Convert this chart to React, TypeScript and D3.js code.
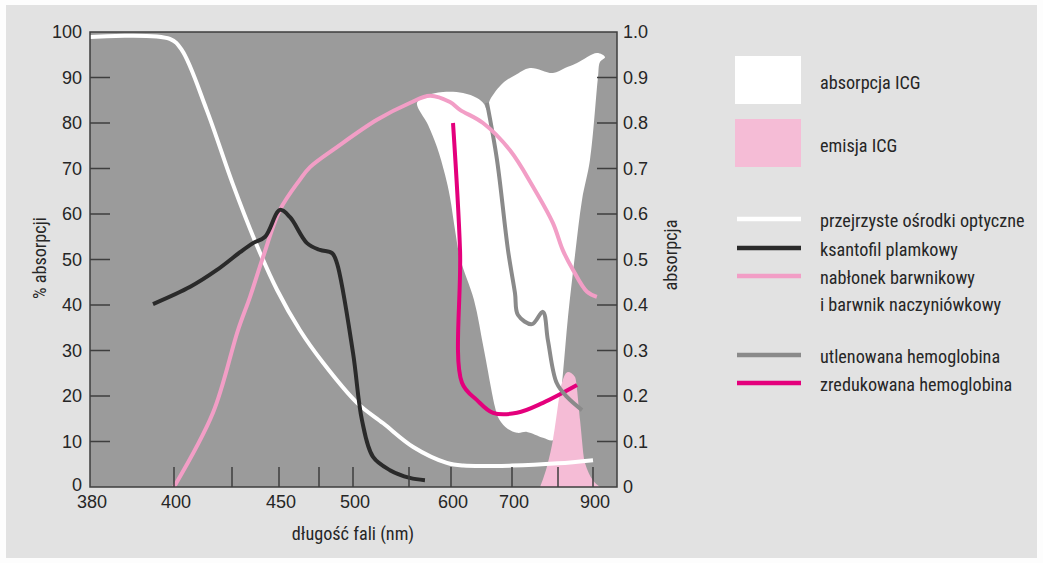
import React, { useEffect, useRef } from 'react'
import * as d3 from 'd3'

// wavelength axis is not linear in the original, so it is built from its tick stops
const wavelengths = [380, 400, 425, 450, 475, 500, 550, 600, 700, 800, 900]
const wavelengthLabels = [380, 400, 450, 500, 600, 700, 900]
const percentTicks = [0, 10, 20, 30, 40, 50, 60, 70, 80, 90, 100]
const absorbanceTicks = [0, 0.1, 0.2, 0.3, 0.4, 0.5, 0.6, 0.7, 0.8, 0.9, 1.0]

// [wavelength nm, % absorption]
const opticalMedia: [number, number][] = [
  [380, 98.9], [399, 98.5], [403.4, 96], [414, 83], [425.5, 66.5], [437, 54.3],
  [449, 43.3], [463, 34.5], [478, 27.3], [503.6, 18.5], [527, 14], [555, 8.8],
  [595, 5.3], [620, 4.7], [700, 4.7], [800, 5.2], [900, 5.9],
]
const xanthophyll: [number, number][] = [
  [395, 40.2], [407, 44], [418.5, 47.7], [429.3, 51.6], [436.2, 53.6], [442.6, 55],
  [450.6, 60.9], [456.9, 59.3], [467.5, 53.6], [475.7, 52.1], [484.6, 51.4], [488.2, 49.2],
  [500, 29.5], [508, 14.7], [517.9, 6.6], [533, 3.7], [551, 2], [569, 1.5],
]
const pigmentEpithelium: [number, number][] = [
  [400, 0], [416.8, 16.3], [428.2, 34.5], [434.6, 41.8], [441.5, 50.5], [450.6, 60.9],
  [463, 67.5], [469.4, 70.3], [488.2, 74.7], [521.4, 80.7], [551, 84.4], [575, 86],
  [598.8, 84.6], [614.8, 82.9], [652.5, 80], [696.7, 74], [745.7, 66], [789, 58],
  [814, 52], [843, 47.7], [883, 42.9], [911, 41.8],
]

// [wavelength nm, absorbance]
const oxyHemoglobin: [number, number][] = [
  [659, 0.844], [675.4, 0.719], [693.4, 0.521], [706.5, 0.426], [713, 0.378],
  [743.5, 0.358], [767, 0.385], [778, 0.323], [797, 0.229], [825.7, 0.198], [868.6, 0.169],
]
const deoxyHemoglobin: [number, number][] = [
  [603.3, 0.8], [614.8, 0.521], [618, 0.229], [642.6, 0.191], [668.9, 0.163],
  [710.9, 0.163], [767.4, 0.185], [854.3, 0.224],
]
const icgAbsorption: [number, number][] = [
  [559.5, 0.844], [569, 0.859], [590.5, 0.868], [619.7, 0.866], [642.6, 0.855], [654.1, 0.842],
  [659, 0.829], [664, 0.851], [685.2, 0.888], [706.5, 0.905], [739.1, 0.921], [789.1, 0.91],
  [820, 0.921], [854.3, 0.932], [911.4, 0.954], [934.3, 0.945], [920, 0.934], [914.3, 0.901],
  [891.4, 0.719], [868.6, 0.631], [848.6, 0.51], [828.6, 0.374], [814.3, 0.251], [800, 0.147],
  [789.1, 0.103], [767.4, 0.108], [732.6, 0.121], [710.9, 0.119], [689.1, 0.132], [677, 0.154],
  [672.1, 0.176], [654.1, 0.301], [637.7, 0.411], [614.8, 0.503], [606.6, 0.565], [598.8, 0.637],
  [592.9, 0.686], [583.3, 0.747], [572.6, 0.796],
]
const icgEmission: [number, number][] = [
  [761, 0], [778, 0.053], [789, 0.103], [811.4, 0.229], [828.6, 0.253], [848.6, 0.242],
  [862.9, 0.147], [877, 0.053], [920, 0],
]

const areaLegend = ['absorpcja ICG', 'emisja ICG']
const lineLegend = [
  ['przejrzyste ośrodki optyczne'],
  ['ksantofil plamkowy'],
  ['nabłonek barwnikowy', 'i barwnik naczyniówkowy'],
  ['utlenowana hemoglobina'],
  ['zredukowana hemoglobina'],
]

const W = 1043
const H = 563
const plot = { left: 90, right: 617, top: 32, bottom: 487 }
const axisStops = [90, 174, 232, 279, 319, 353, 409, 451, 512, 558, 593]

const labelFont = "'Roboto Condensed', 'Liberation Sans Narrow', 'Arial Narrow', sans-serif"
const tickFont = "'Liberation Sans', Arial, sans-serif"
const labelSize = 18.2

const colors = {
  page: '#e2e2e2',
  plot: '#9b9b9b',
  axis: '#3e3e3e',
  text: '#262626',
  white: '#ffffff',
  black: '#2a2a2a',
  pink: '#f29ec6',
  gray: '#8a8a8a',
  magenta: '#e4007c',
  emission: '#f5bcd6',
}

function drawChart(node: SVGSVGElement) {
  const svg = d3.select(node)
  svg.selectAll('*').remove()

  const x = d3.scaleLinear().domain(wavelengths).range(axisStops)
  const yPct = d3.scaleLinear().domain([0, 100]).range([plot.bottom, plot.top])
  const yAbs = d3.scaleLinear().domain([0, 1]).range([plot.bottom, plot.top])

  svg.append('rect').attr('width', W).attr('height', H).attr('fill', '#fdfdfd')
  svg.append('rect')
    .attr('x', 6).attr('y', 5).attr('width', W - 12).attr('height', H - 10)
    .attr('fill', colors.page)

  svg.append('clipPath').attr('id', 'plot-clip')
    .append('rect')
    .attr('x', plot.left).attr('y', plot.top)
    .attr('width', plot.right - plot.left).attr('height', plot.bottom - plot.top)

  svg.append('rect')
    .attr('x', plot.left).attr('y', plot.top)
    .attr('width', plot.right - plot.left).attr('height', plot.bottom - plot.top)
    .attr('fill', colors.plot)

  const g = svg.append('g').attr('clip-path', 'url(#plot-clip)')

  const absOutline = d3.line<[number, number]>()
    .x(d => x(d[0])).y(d => yAbs(d[1]))
    .curve(d3.curveCatmullRomClosed.alpha(0.5))
  const pctLine = d3.line<[number, number]>()
    .x(d => x(d[0])).y(d => yPct(d[1]))
    .curve(d3.curveCatmullRom.alpha(0.5))
  const absLine = d3.line<[number, number]>()
    .x(d => x(d[0])).y(d => yAbs(d[1]))
    .curve(d3.curveCatmullRom.alpha(0.5))

  // ICG absorption (white cloud)
  g.append('path').attr('d', absOutline(icgAbsorption)).attr('fill', colors.white)

  // ICG emission
  const emissionArea = d3.area<[number, number]>()
    .x(d => x(d[0])).y0(yAbs(0)).y1(d => yAbs(d[1]))
    .curve(d3.curveMonotoneX)
  g.append('path').attr('d', emissionArea(icgEmission)).attr('fill', colors.emission)

  const strokes: [[number, number][], string, boolean][] = [
    [deoxyHemoglobin, colors.magenta, true],
    [oxyHemoglobin, colors.gray, true],
    [opticalMedia, colors.white, false],
    [pigmentEpithelium, colors.pink, false],
    [xanthophyll, colors.black, false],
  ]
  strokes.forEach(([data, color, abs]) => {
    g.append('path')
      .attr('d', abs ? absLine(data) : pctLine(data))
      .attr('fill', 'none')
      .attr('stroke', color)
      .attr('stroke-width', 4)
      .attr('stroke-linejoin', 'round')
  })

  // frame
  svg.append('rect')
    .attr('x', plot.left).attr('y', plot.top)
    .attr('width', plot.right - plot.left).attr('height', plot.bottom - plot.top)
    .attr('fill', 'none').attr('stroke', colors.axis).attr('stroke-width', 1.5)

  const tickLen = 20

  // left axis
  const left = svg.append('g')
  left.selectAll('line')
    .data(percentTicks.filter(d => d > 0 && d < 100))
    .enter().append('line')
    .attr('x1', plot.left).attr('x2', plot.left + tickLen)
    .attr('y1', d => yPct(d)).attr('y2', d => yPct(d))
    .attr('stroke', colors.axis).attr('stroke-width', 1.5)
  left.selectAll('text')
    .data(percentTicks)
    .enter().append('text')
    .attr('x', plot.left - 8).attr('y', d => yPct(d) - (d === 0 ? 2 : 0))
    .attr('dy', '0.35em')
    .attr('text-anchor', 'end')
    .attr('font-family', tickFont).attr('font-size', 18).attr('fill', colors.text)
    .text(d => d)

  // right axis
  const right = svg.append('g')
  right.selectAll('line')
    .data(absorbanceTicks.filter(d => d > 0 && d < 1))
    .enter().append('line')
    .attr('x1', plot.right - tickLen).attr('x2', plot.right)
    .attr('y1', d => yAbs(d)).attr('y2', d => yAbs(d))
    .attr('stroke', colors.axis).attr('stroke-width', 1.5)
  right.selectAll('text')
    .data(absorbanceTicks)
    .enter().append('text')
    .attr('x', plot.right + 6).attr('y', d => yAbs(d))
    .attr('dy', '0.35em')
    .attr('font-family', tickFont).attr('font-size', 18).attr('fill', colors.text)
    .text(d => (d === 0 ? '0' : d.toFixed(1)))

  // bottom axis
  const bottom = svg.append('g')
  bottom.selectAll('line')
    .data(wavelengths.filter(d => d > 380))
    .enter().append('line')
    .attr('x1', d => x(d)).attr('x2', d => x(d))
    .attr('y1', plot.bottom).attr('y2', plot.bottom - tickLen)
    .attr('stroke', colors.axis).attr('stroke-width', 1.5)
  bottom.selectAll('text')
    .data(wavelengthLabels)
    .enter().append('text')
    .attr('x', d => x(d) + 2).attr('y', plot.bottom + 21)
    .attr('text-anchor', 'middle')
    .attr('font-family', tickFont).attr('font-size', 18).attr('fill', colors.text)
    .text(d => d)

  // axis titles
  svg.append('text')
    .attr('x', 353).attr('y', 540)
    .attr('text-anchor', 'middle')
    .attr('font-family', labelFont).attr('font-size', labelSize).attr('fill', colors.text)
    .text('długość fali (nm)')
  svg.append('text')
    .attr('transform', 'translate(46,258) rotate(-90)')
    .attr('text-anchor', 'middle')
    .attr('font-family', labelFont).attr('font-size', labelSize).attr('fill', colors.text)
    .text('% absorpcji')
  svg.append('text')
    .attr('transform', 'translate(677,255) rotate(-90)')
    .attr('text-anchor', 'middle')
    .attr('font-family', labelFont).attr('font-size', labelSize).attr('fill', colors.text)
    .text('absorpcja')

  // legend: areas
  const legend = svg.append('g')
  const swatchX = 735
  const swatchW = 66
  const labelX = 820
  const areaFills = [colors.white, colors.emission]
  areaLegend.forEach((label, i) => {
    const top = 56 + i * 63
    legend.append('rect')
      .attr('x', swatchX).attr('y', top).attr('width', swatchW).attr('height', 48)
      .attr('fill', areaFills[i])
    legend.append('text')
      .attr('x', labelX).attr('y', top + 27).attr('dy', '0.35em')
      .attr('font-family', labelFont).attr('font-size', labelSize).attr('fill', colors.text)
      .text(label)
  })

  // legend: lines
  const lineColors = [colors.white, colors.black, colors.pink, colors.gray, colors.magenta]
  const lineRows = [219, 248, 276, 355, 383]
  lineLegend.forEach((lines, i) => {
    const y = lineRows[i]
    legend.append('line')
      .attr('x1', swatchX + 2).attr('x2', swatchX + swatchW)
      .attr('y1', y).attr('y2', y)
      .attr('stroke', lineColors[i]).attr('stroke-width', 4.5)
    lines.forEach((t, j) => {
      legend.append('text')
        .attr('x', labelX).attr('y', y + 2 + j * 27).attr('dy', '0.35em')
        .attr('font-family', labelFont).attr('font-size', labelSize).attr('fill', colors.text)
        .text(t)
    })
  })
}

export default function App() {
  const ref = useRef<SVGSVGElement>(null)
  useEffect(() => {
    if (ref.current) drawChart(ref.current)
  }, [])
  return (
    <svg
      ref={ref}
      width={W}
      height={H}
      viewBox={`0 0 ${W} ${H}`}
      style={{ position: 'absolute', left: 0, top: 0, display: 'block' }}
    />
  )
}
